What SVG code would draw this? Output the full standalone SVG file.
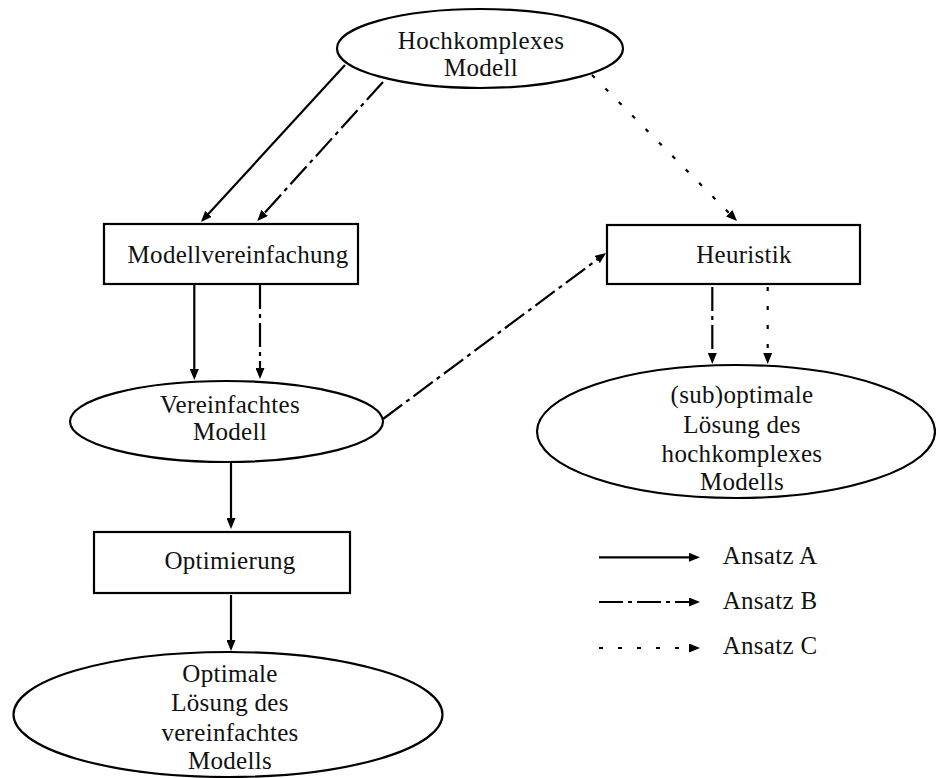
<svg xmlns="http://www.w3.org/2000/svg" width="936" height="778" viewBox="0 0 936 778">
<defs>
<marker id="ah" markerUnits="userSpaceOnUse" markerWidth="11" markerHeight="9" refX="8" refY="4.5" orient="auto" viewBox="0 0 11 9"><path d="M0,0 L11,4.5 L0,9 z" fill="#000"/></marker>
</defs>
<style>
.n{fill:#fff;stroke:#000;stroke-width:2.2}
.t{font-family:"Liberation Serif","Times New Roman",serif;font-size:25px;letter-spacing:0.3px;text-anchor:middle;fill:#111}
.l{font-family:"Liberation Serif","Times New Roman",serif;font-size:25px;letter-spacing:0.3px;fill:#111}
.c{fill:none;stroke:#000;stroke-width:2.2;marker-end:url(#ah)}
.b{stroke-dasharray:24 5 4 5}
.d{stroke-dasharray:4 15}
</style>
<rect width="936" height="778" fill="#fff"/>
<g id="connectors">
<path class="c" d="M345,65 L203,219.8"/>
<path class="c b" d="M383,82 L259.3,218.8"/>
<path class="c d" d="M592,75 L734.9,218.9"/>
<path class="c" d="M194.3,285 L194.3,377"/>
<path class="c b" d="M260,285 L260,376"/>
<path class="c b" d="M383,419 L603.6,254.8"/>
<path class="c" d="M231,462 L231,526"/>
<path class="c" d="M231,595 L231,648"/>
<path class="c b" d="M712.3,287 L712.3,361"/>
<path class="c d" d="M767.7,287 L767.7,361"/>
</g>
<g id="hochkomplex">
<ellipse class="n" cx="480" cy="48.5" rx="143" ry="39.5"/>
<text class="t" x="481" y="49">Hochkomplexes</text>
<text class="t" x="481" y="76">Modell</text>
</g>
<g id="modellvereinfachung">
<rect class="n" x="104" y="224" width="254" height="60"/>
<text class="t" x="238" y="263">Modellvereinfachung</text>
</g>
<g id="heuristik">
<rect class="n" x="607" y="225" width="253" height="59"/>
<text class="t" x="744" y="263">Heuristik</text>
</g>
<g id="vereinfachtes">
<ellipse class="n" cx="226.5" cy="421.5" rx="156.5" ry="40.5"/>
<text class="t" x="230" y="413">Vereinfachtes</text>
<text class="t" x="230" y="440">Modell</text>
</g>
<g id="suboptimal">
<ellipse class="n" cx="736" cy="431.5" rx="199" ry="66.5"/>
<text class="t" x="742" y="403">(sub)optimale</text>
<text class="t" x="742" y="433">Lösung des</text>
<text class="t" x="742" y="462">hochkomplexes</text>
<text class="t" x="742" y="490">Modells</text>
</g>
<g id="optimierung">
<rect class="n" x="94" y="532" width="256" height="61"/>
<text class="t" x="230" y="569">Optimierung</text>
</g>
<g id="optimal">
<ellipse class="n" cx="228" cy="714.5" rx="214.5" ry="62.5"/>
<text class="t" x="230" y="682">Optimale</text>
<text class="t" x="230" y="711">Lösung des</text>
<text class="t" x="230" y="741">vereinfachtes</text>
<text class="t" x="230" y="769">Modells</text>
</g>
<g id="legend">
<path class="c" d="M599,557.3 L697,557.3"/>
<path class="c b" d="M599,602 L697,602"/>
<path class="c d" d="M599,648 L697,648"/>
<text class="l" x="722.7" y="564">Ansatz A</text>
<text class="l" x="722.7" y="609">Ansatz B</text>
<text class="l" x="722.7" y="654">Ansatz C</text>
</g>
</svg>
